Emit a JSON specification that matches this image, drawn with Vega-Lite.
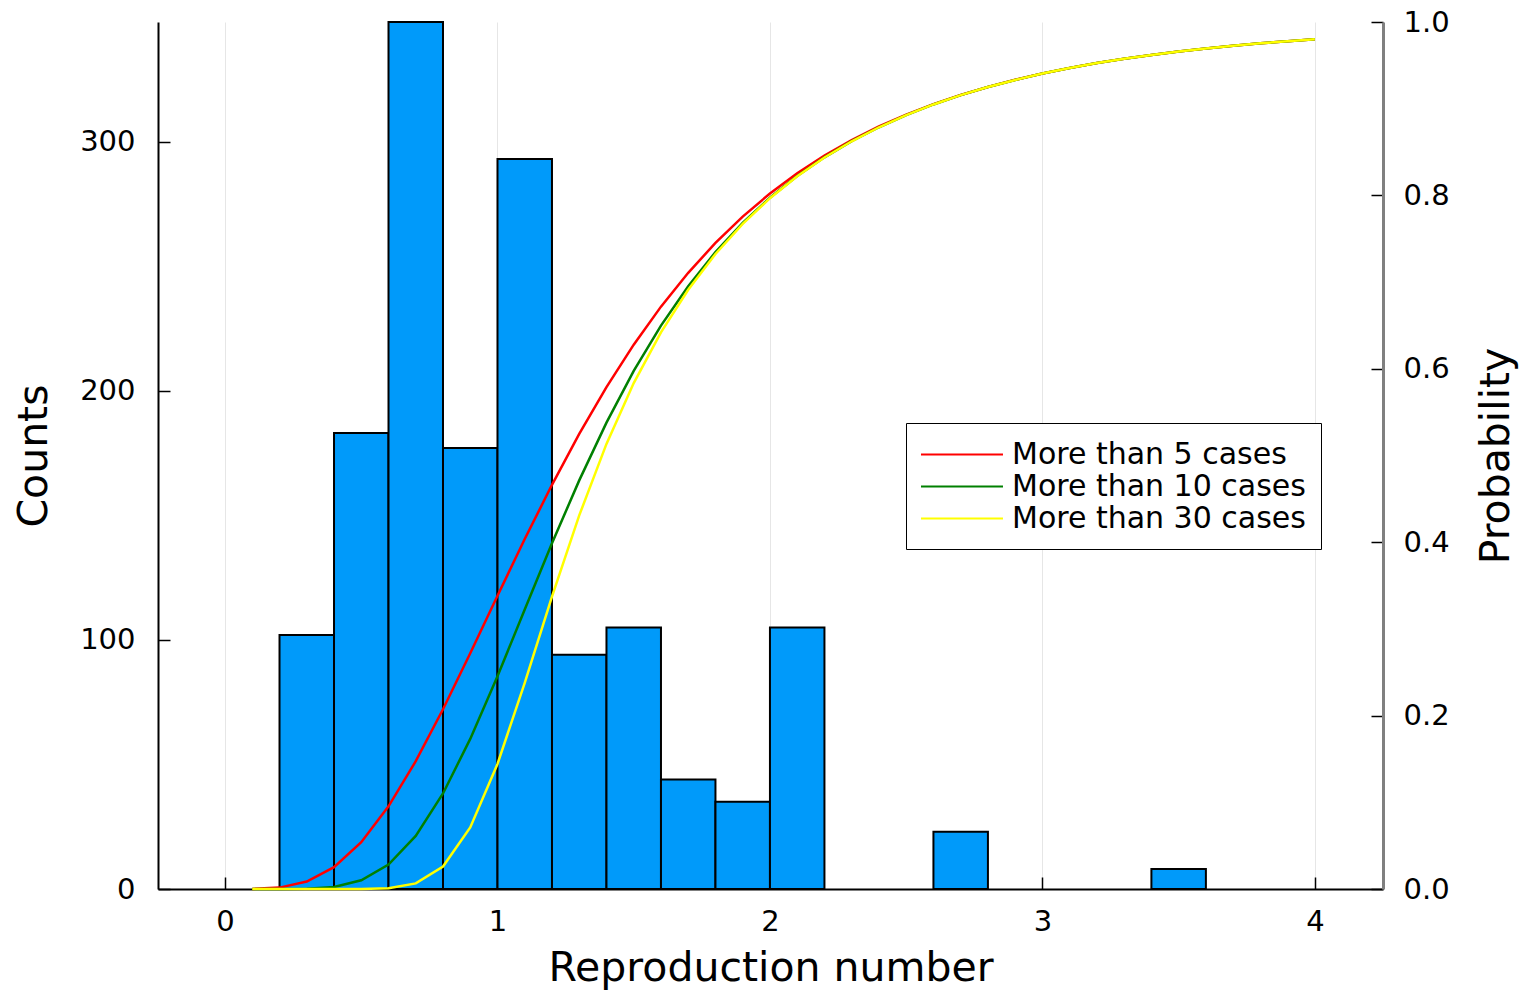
{
  "$schema": "https://vega.github.io/schema/vega-lite/v6.json",
  "width": 1225,
  "height": 867,
  "autosize": {"type": "none"},
  "padding": {"left": 158, "top": 22, "right": 138, "bottom": 101},
  "background": "white",
  "config": {
    "view": {"stroke": null},
    "font": "DejaVu Sans",
    "axis": {
      "labelFont": "DejaVu Sans",
      "titleFont": "DejaVu Sans",
      "labelFontSize": 29,
      "titleFontSize": 41,
      "titleFontWeight": "normal",
      "labelColor": "#000000",
      "titleColor": "#000000",
      "tickColor": "#000000",
      "domainColor": "#000000",
      "tickSize": -12,
      "tickWidth": 1.5,
      "domainWidth": 2
    }
  },
  "datasets": {
    "hist": [
      {"start": 0.2, "end": 0.4, "count": 102},
      {"start": 0.4, "end": 0.6, "count": 183},
      {"start": 0.6, "end": 0.8, "count": 348},
      {"start": 0.8, "end": 1.0, "count": 177},
      {"start": 1.0, "end": 1.2, "count": 293},
      {"start": 1.2, "end": 1.4, "count": 94},
      {"start": 1.4, "end": 1.6, "count": 105},
      {"start": 1.6, "end": 1.8, "count": 44},
      {"start": 1.8, "end": 2.0, "count": 35},
      {"start": 2.0, "end": 2.2, "count": 105},
      {"start": 2.6, "end": 2.8, "count": 23},
      {"start": 3.4, "end": 3.6, "count": 8}
    ],
    "curves": [
      {"R": 0.1, "p5": 0.0001, "p10": 0.0, "p30": 0.0},
      {"R": 0.2, "p5": 0.0016, "p10": 0.0, "p30": 0.0},
      {"R": 0.3, "p5": 0.0086, "p10": 0.0003, "p30": 0.0},
      {"R": 0.4, "p5": 0.0252, "p10": 0.0024, "p30": 0.0},
      {"R": 0.5, "p5": 0.054, "p10": 0.01, "p30": 0.0001},
      {"R": 0.6, "p5": 0.0953, "p10": 0.0282, "p30": 0.0009},
      {"R": 0.7, "p5": 0.1474, "p10": 0.0612, "p30": 0.0065},
      {"R": 0.8, "p5": 0.2073, "p10": 0.1102, "p30": 0.026},
      {"R": 0.9, "p5": 0.2719, "p10": 0.1731, "p30": 0.071},
      {"R": 1.0, "p5": 0.3382, "p10": 0.2455, "p30": 0.1442},
      {"R": 1.1, "p5": 0.4036, "p10": 0.3223, "p30": 0.2378},
      {"R": 1.2, "p5": 0.4662, "p10": 0.3987, "p30": 0.3371},
      {"R": 1.3, "p5": 0.5249, "p10": 0.4713, "p30": 0.4309},
      {"R": 1.4, "p5": 0.5789, "p10": 0.5379, "p30": 0.5134},
      {"R": 1.5, "p5": 0.6278, "p10": 0.5975, "p30": 0.5835},
      {"R": 1.6, "p5": 0.6717, "p10": 0.6498, "p30": 0.6421},
      {"R": 1.7, "p5": 0.7107, "p10": 0.6953, "p30": 0.6912},
      {"R": 1.8, "p5": 0.7452, "p10": 0.7346, "p30": 0.7324},
      {"R": 1.9, "p5": 0.7756, "p10": 0.7683, "p30": 0.7672},
      {"R": 2.0, "p5": 0.8022, "p10": 0.7974, "p30": 0.7968},
      {"R": 2.1, "p5": 0.8256, "p10": 0.8223, "p30": 0.8221},
      {"R": 2.2, "p5": 0.846, "p10": 0.8439, "p30": 0.8437},
      {"R": 2.3, "p5": 0.8639, "p10": 0.8625, "p30": 0.8624},
      {"R": 2.4, "p5": 0.8795, "p10": 0.8786, "p30": 0.8786},
      {"R": 2.5, "p5": 0.8932, "p10": 0.8927, "p30": 0.8927},
      {"R": 2.6, "p5": 0.9053, "p10": 0.9049, "p30": 0.9049},
      {"R": 2.7, "p5": 0.9158, "p10": 0.9156, "p30": 0.9156},
      {"R": 2.8, "p5": 0.9251, "p10": 0.925, "p30": 0.925},
      {"R": 2.9, "p5": 0.9333, "p10": 0.9332, "p30": 0.9332},
      {"R": 3.0, "p5": 0.9405, "p10": 0.9405, "p30": 0.9405},
      {"R": 3.1, "p5": 0.9469, "p10": 0.9469, "p30": 0.9469},
      {"R": 3.2, "p5": 0.9526, "p10": 0.9526, "p30": 0.9526},
      {"R": 3.3, "p5": 0.9576, "p10": 0.9576, "p30": 0.9576},
      {"R": 3.4, "p5": 0.962, "p10": 0.962, "p30": 0.962},
      {"R": 3.5, "p5": 0.966, "p10": 0.966, "p30": 0.966},
      {"R": 3.6, "p5": 0.9695, "p10": 0.9695, "p30": 0.9695},
      {"R": 3.7, "p5": 0.9726, "p10": 0.9726, "p30": 0.9726},
      {"R": 3.8, "p5": 0.9754, "p10": 0.9754, "p30": 0.9754},
      {"R": 3.9, "p5": 0.9779, "p10": 0.9779, "p30": 0.9779},
      {"R": 4.0, "p5": 0.9802, "p10": 0.9802, "p30": 0.9802}
    ]
  },
  "layer": [
    {
      "data": {"name": "hist"},
      "mark": {"type": "bar", "orient": "vertical", "fill": "#009AFA", "stroke": "#000000", "strokeWidth": 2},
      "encoding": {
        "x": {
          "field": "start", "type": "quantitative",
          "scale": {"domain": [-0.246, 4.25], "nice": false, "zero": false, "padding": 0},
          "axis": {"title": "Reproduction number", "values": [0, 1, 2, 3, 4], "format": "d", "grid": true, "gridColor": "#e6e6e6", "gridWidth": 1, "labelPadding": 30, "titlePadding": 12, "labelFlush": false}
        },
        "x2": {"field": "end"},
        "y": {
          "field": "count", "type": "quantitative",
          "scale": {"domain": [0, 348], "nice": false, "padding": 0},
          "axis": {"title": "Counts", "values": [0, 100, 200, 300], "grid": false, "labelPadding": 35, "titlePadding": 24}
        },
        "y2": {"datum": 0}
      }
    },
    {
      "data": {"name": "curves"},
      "layer": [
        {
          "mark": {"type": "line", "strokeWidth": 2.5},
          "encoding": {
            "x": {"field": "R", "type": "quantitative", "axis": {"title": "Reproduction number", "values": [0, 1, 2, 3, 4], "format": "d", "grid": true, "gridColor": "#e6e6e6", "gridWidth": 1, "labelPadding": 30, "titlePadding": 12, "labelFlush": false}},
            "y": {"field": "p5", "type": "quantitative", "scale": {"domain": [0, 1], "nice": false},
              "axis": {"title": "Probability", "orient": "right", "values": [0, 0.2, 0.4, 0.6, 0.8, 1.0], "format": ".1f", "grid": false, "labelPadding": 32, "titlePadding": 68, "titleAngle": -90, "domainColor": "#808080", "domainWidth": 3}},
            "color": {"datum": "More than 5 cases", "type": "nominal",
              "scale": {"domain": ["More than 5 cases", "More than 10 cases", "More than 30 cases"], "range": ["#FF0000", "#008000", "#FFFF00"]},
              "legend": {"title": null, "orient": "none", "legendX": 748, "legendY": 401, "symbolType": "M-1.065,0H4.225", "symbolSize": 961, "symbolStrokeWidth": 2, "labelFontSize": 30, "labelFont": "DejaVu Sans", "labelColor": "#000000", "labelOffset": 58, "padding": 15, "strokeColor": "#000000", "fillColor": "#ffffff", "rowPadding": 0, "labelLimit": 500}}
          }
        },
        {
          "mark": {"type": "line", "strokeWidth": 2.5},
          "encoding": {
            "x": {"field": "R", "type": "quantitative"},
            "y": {"field": "p10", "type": "quantitative",
              "axis": {"title": "Probability", "orient": "right", "values": [0, 0.2, 0.4, 0.6, 0.8, 1.0], "format": ".1f", "grid": false, "labelPadding": 32, "titlePadding": 68, "titleAngle": -90, "domainColor": "#808080", "domainWidth": 3}},
            "color": {"datum": "More than 10 cases", "type": "nominal"}
          }
        },
        {
          "mark": {"type": "line", "strokeWidth": 2.5},
          "encoding": {
            "x": {"field": "R", "type": "quantitative"},
            "y": {"field": "p30", "type": "quantitative",
              "axis": {"title": "Probability", "orient": "right", "values": [0, 0.2, 0.4, 0.6, 0.8, 1.0], "format": ".1f", "grid": false, "labelPadding": 32, "titlePadding": 68, "titleAngle": -90, "domainColor": "#808080", "domainWidth": 3}},
            "color": {"datum": "More than 30 cases", "type": "nominal"}
          }
        }
      ]
    }
  ],
  "resolve": {"scale": {"y": "independent"}}
}
